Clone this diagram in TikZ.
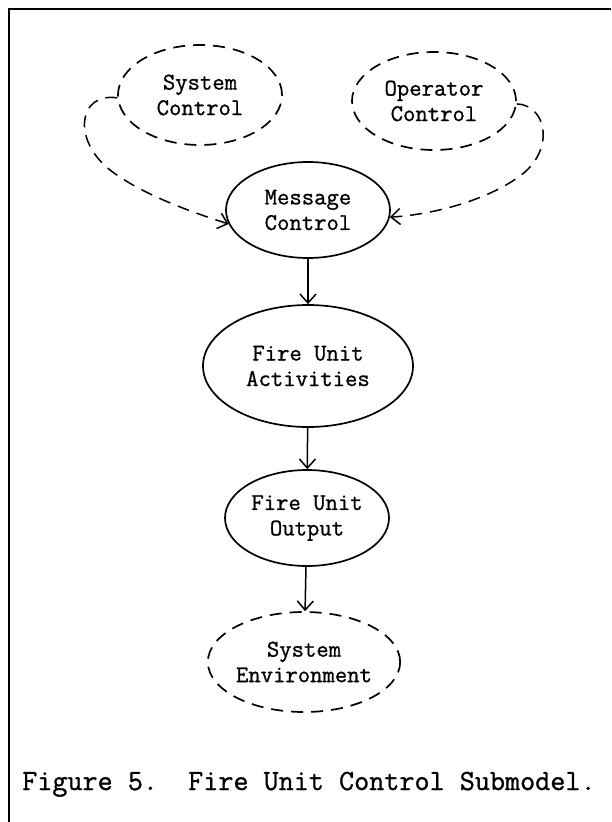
\documentclass[tikz,border=0pt]{standalone}
\usepackage{fontspec}
\newfontfamily\typewr{Latin Modern Mono}[FakeBold=1]
\usetikzlibrary{shapes.geometric,arrows.meta}
\tikzset{
  blob/.style={ellipse, line width=1.7pt, inner sep=0pt, align=center,
    font=\typewr\fontsize{24}{25.5}\selectfont},
  solidblob/.style={blob, draw},
  dashblob/.style={blob, draw, dash pattern=on 12pt off 8pt},
  flow/.style={line width=1.5pt, -{Straight Barb[length=9pt,width=16pt,line width=1.5pt]}},
  dashflow/.style={flow, dash pattern=on 12pt off 8pt},
  frame/.style={line width=1.8pt}
}
\begin{document}
\begin{tikzpicture}[x=1pt,y=-1pt]
\useasboundingbox (0,0) rectangle (611,822);
\draw[frame] (9,822) -- (9,9) -- (611,9);

\node[dashblob, minimum width=164pt, minimum height=100pt] (sys) at (200,95) {System\\Control};
\node[dashblob, minimum width=164pt, minimum height=98pt] (ope) at (434,101) {Operator\\Control};
\node[solidblob, minimum width=164pt, minimum height=96pt] (msg) at (308,210) {Message\\Control};
\node[solidblob, minimum width=210pt, minimum height=122pt] (act) at (308,366) {Fire Unit\\Activities};
\node[solidblob, minimum width=164pt, minimum height=96pt] (out) at (307,518) {Fire Unit\\Output};
\node[dashblob, minimum width=164pt, minimum height=100pt] (env) at (304,662) {System\\Environment};

\draw[dashflow] (sys.182) .. controls (78,92) and (72,140) .. (110,170)
  .. controls (140,193) and (185,210) .. (msg.190);
\draw[dashflow] (ope.358) .. controls (545,105) and (555,145) .. (525,172)
  .. controls (495,197) and (440,214) .. (msg.355);

\draw[flow] (msg) -- (act);
\draw[flow] (act) -- (out);
\draw[flow] (out) -- (env);

\node[anchor=base west, inner sep=0pt, font=\typewr\fontsize{29.3}{30}\selectfont] (cap) at (22,790)
  {Figure 5.\ \ Fire Unit Control Submodel.};
\end{tikzpicture}
\end{document}
